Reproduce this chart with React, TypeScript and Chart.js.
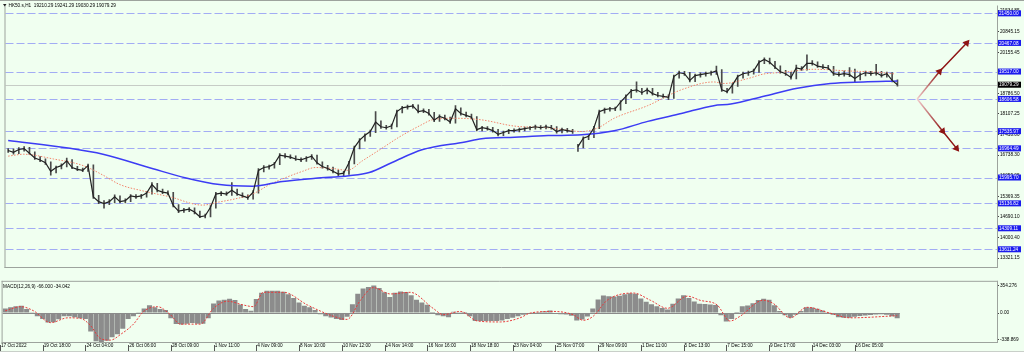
import React, { useEffect, useRef } from "react";
import { Chart, registerables } from "chart.js";

Chart.register(...registerables);

const FONT = '"Liberation Sans", Arial, sans-serif';
const FS = 4.7;

const symbolTitle = "HK50.s,H1";
const lastOpen = 19210.29;
const lastHigh = 19241.29;
const lastLow = 19030.29;
const lastClose = 19079.29;

const dateLabels = [
  "17 Oct 2022", "19 Oct 18:00", "24 Oct 04:00", "26 Oct 06:00", "28 Oct 09:00",
  "1 Nov 11:00", "4 Nov 09:00", "8 Nov 10:00", "10 Nov 12:00", "14 Nov 14:00",
  "16 Nov 16:00", "18 Nov 18:00", "23 Nov 04:00", "25 Nov 07:00", "29 Nov 09:00",
  "1 Dec 11:00", "5 Dec 13:00", "7 Dec 15:00", "9 Dec 17:00", "14 Dec 03:00", "16 Dec 05:00",
];
const BARS_PER_LABEL = 8;

const closes = [
  16895, 16832, 16926, 16958, 16800, 16643, 16580, 16486, 16203, 16328,
  16391, 16549, 16328, 16265, 16234, 16391, 15353, 15195, 15132, 15195,
  15353, 15195, 15227, 15384, 15353, 15384, 15478, 15761, 15573, 15510,
  15478, 15069, 14880, 14912, 14943, 14849, 14691, 14723, 15006, 15447,
  15478, 15447, 15573, 15447, 15384, 15321, 15510, 16234, 16328, 16360,
  16454, 16737, 16706, 16675, 16612, 16580, 16643, 16706, 16486, 16360,
  16297, 16203, 16108, 16140, 16486, 16989, 17241, 17399, 17524, 17839,
  17682, 17650, 17713, 18186, 18312, 18343, 18375, 18186, 18217, 18123,
  17902, 18028, 17965, 17839, 18280, 18123, 18060, 17997, 17587, 17650,
  17619, 17556, 17430, 17493, 17556, 17556, 17587, 17619, 17650, 17682,
  17650, 17682, 17650, 17524, 17587, 17556, 17524, 17021, 17304, 17367,
  17650, 18186, 18249, 18280, 18280, 18500, 18689, 18878, 18910, 18815,
  18910, 18784, 18721, 18689, 18658, 19350, 19476, 19445, 19224, 19382,
  19413, 19445, 19476, 19539, 18910, 18847, 19067, 19350, 19445, 19476,
  19539, 19823, 19917, 19823, 19665, 19508, 19445, 19319, 19634, 19602,
  19791, 19791, 19697, 19665, 19634, 19445, 19413, 19445, 19413, 19287,
  19413, 19476, 19445, 19476, 19382, 19445, 19224, 19079.29,
];

const lows = [
  16830, 16770, 16790, 16870, 16760, 16600, 16520, 16430, 16076, 16150,
  16280, 16350, 16290, 16220, 16190, 16200, 15300, 15130, 14974, 15090,
  15150, 15150, 15150, 15190, 15300, 15300, 15340, 15440, 15520, 15460,
  15420, 15020, 14830, 14840, 14860, 14790, 14660, 14650, 14690, 14980,
  15390, 15400, 15400, 15400, 15330, 15270, 15280, 15480, 16180, 16270,
  16310, 16420, 16650, 16620, 16560, 16520, 16530, 16600, 16440, 16310,
  16240, 16150, 16050, 16060, 16100, 16450, 16950, 17200, 17360, 17490,
  17630, 17600, 17610, 17680, 18140, 18270, 18300, 18140, 18150, 18070,
  17850, 17860, 17910, 17790, 17800, 18070, 18010, 17950, 17540, 17540,
  17570, 17500, 17380, 17390, 17450, 17500, 17510, 17540, 17580, 17600,
  17600, 17610, 17600, 17470, 17480, 17500, 17460, 16863, 16980, 17250,
  17320, 17620, 18130, 18200, 18220, 18230, 18450, 18640, 18830, 18760,
  18770, 18730, 18670, 18640, 18580, 18620, 19300, 19390, 19170, 19180,
  19330, 19360, 19400, 19420, 18860, 18805, 18800, 19020, 19300, 19390,
  19430, 19490, 19780, 19770, 19610, 19460, 19390, 19260, 19270, 19550,
  19560, 19730, 19650, 19610, 19580, 19390, 19360, 19360, 19350, 19161,
  19240, 19370, 19390, 19400, 19330, 19330, 19170, 19030.29,
];

const highs = [
  16960, 16950, 16990, 17020, 17000, 16850, 16690, 16620, 16520, 16380,
  16450, 16640, 16590, 16370, 16310, 16440, 16420, 15400, 15230, 15260,
  15420, 15390, 15290, 15430, 15430, 15440, 15530, 15830, 15800, 15610,
  15550, 15500, 15100, 14970, 15000, 14990, 14880, 14780, 15060, 15500,
  15530, 15520, 15830, 15610, 15490, 15420, 15560, 16290, 16390, 16410,
  16500, 16790, 16790, 16750, 16720, 16650, 16690, 16760, 16740, 16520,
  16400, 16340, 16240, 16200, 16530, 17040, 17290, 17450, 17570, 18186,
  17880, 17730, 17770, 18240, 18360, 18400, 18430, 18410, 18280, 18260,
  18160, 18080, 18070, 18000, 18383, 18310, 18170, 18100, 18020, 17700,
  17690, 17660, 17600, 17540, 17600, 17610, 17640, 17670, 17700, 17740,
  17720, 17740, 17730, 17690, 17640, 17630, 17600, 17100, 17350, 17420,
  17700, 18240, 18300, 18330, 18340, 18550, 18740, 18930, 19171, 18960,
  18970, 18960, 18830, 18770, 18740, 19400, 19530, 19520, 19490, 19430,
  19470, 19500, 19530, 19697, 19580, 18960, 19120, 19400, 19500, 19530,
  19600, 19880, 19970, 19960, 19860, 19710, 19560, 19490, 19730, 19680,
  20074, 19880, 19840, 19750, 19720, 19690, 19500, 19540, 19645, 19600,
  19470, 19530, 19520, 19760, 19520, 19500, 19480, 19241.29,
];
const gapAfterIndex = 106;

// slow moving average (blue), [bar index, price]
const maSlow = [
  [0, 17225], [11.6, 16967], [17.8, 16769], [27.2, 16287], [33.4, 15982], [39.7, 15761],
  [45.9, 15708], [51.5, 15866], [57.7, 15972], [64, 16054], [67.8, 16160], [72.1, 16495],
  [77.7, 16917], [85.8, 17178], [88.9, 17282], [95.1, 17336], [101.4, 17389], [107.7, 17414],
  [113.8, 17547], [120.1, 17861], [126.4, 18123], [132.5, 18384], [135.7, 18437], [141.9, 18698],
  [148.2, 18963], [154.4, 19120], [160.6, 19171], [167, 19202],
];

// fast moving average (red dotted), [bar index, price]
const maFast = [
  [0, 16706], [2.9, 16769], [8.5, 16612], [14.1, 16391], [17.8, 16076], [21, 15761],
  [25.3, 15551], [30.4, 15353], [36.5, 15079], [39.7, 15186], [42.7, 15289], [45.9, 15447],
  [49.1, 15761], [51.5, 15950], [55.3, 16203], [57.7, 16328], [60.9, 16297], [63.7, 16234],
  [66.5, 16549], [70.2, 16967], [73.4, 17336], [77.7, 17754], [79.6, 17912], [83.9, 17965],
  [88.9, 17912], [95.1, 17704], [101.4, 17650], [107.7, 17524], [110.8, 17650], [113.8, 17965],
  [120.1, 18384], [126.4, 18910], [132.5, 19171], [134.4, 19120], [138.8, 19278], [141.9, 19435],
  [145.1, 19486], [151.3, 19592], [157.6, 19539], [163.8, 19486], [166.6, 19435],
];

const levels = [21450.0, 20467.08, 19517.0, 18606.58, 17535.97, 16964.49, 15995.7, 15136.82, 14309.11, 13611.24];

const priceTicks = [
  13321.15, 14000.4, 14690.1, 15369.35, 16059.05, 16738.3, 17418.0,
  18107.25, 18786.5, 19476.2, 20155.45, 20845.15, 21534.85,
];

// projection arrows, [bar index, price]
const arrowUp = [[170.7, 18606.58], [174.9, 19517.0], [180.0, 20467.08]];
const arrowDown = [[170.7, 18606.58], [175.5, 17535.97], [178.1, 16964.49]];

const macdHist = [
  58, 76, 86, 94, 51, 11, -40, -77, -120, -118,
  -80, -40, -40, -53, -65, -77, -236, -360, -370, -355,
  -310, -273, -200, -77, -40, 9, 58, 100, 76, 51,
  38, -65, -140, -148, -138, -126, -138, -138, -65, 122,
  160, 170, 182, 168, 109, 51, 30, 180, 260, 287,
  287, 287, 272, 241, 192, 137, 94, 76, 39, -16,
  -40, -56, -77, -89, -47, 113, 247, 315, 333, 352,
  321, 266, 207, 260, 278, 270, 229, 170, 135, 107,
  2, -28, -40, -53, 17, 9, 2, -40, -102, -102,
  -102, -102, -102, -96, -77, -61, -40, -22, -4, 9,
  15, 23, 33, -12, -16, -18, -34, -96, -83, -44,
  58, 174, 225, 217, 211, 221, 241, 254, 247, 186,
  146, 113, 87, 64, 45, 119, 186, 229, 192, 148,
  121, 116, 111, 104, -28, -109, -77, 15, 86, 98,
  125, 168, 184, 172, 100, 25, -28, -59, -22, 27,
  76, 70, 54, 33, 9, -22, -53, -61, -61, -47,
  -37, -31, -25, -20, -15, -22, -40, -66,
];

// signal line, [bar index, value]
const macdSignal = [
  [0, 29], [2.9, 82], [5.3, 29], [8.5, -123], [11.7, -61], [14.1, -69], [16, -163], [17.8, -326],
  [19.7, -347], [21.6, -273], [24, -142], [25.9, 21], [28.5, 82], [30.9, -20], [32.8, -142],
  [36.5, -142], [39, 61], [41.6, 152], [44.6, 103], [46.5, 82], [48.3, 266], [52.1, 266],
  [56.6, 103], [61.4, -40], [64, -81], [66.5, 164], [68.9, 327], [72.1, 245], [75.8, 266],
  [80.1, 61], [82, -20], [85.2, 21], [88.4, -102], [92.7, -114], [96.4, -61], [98.3, 0],
  [102.6, 21], [106.3, -20], [108.2, -93], [110.1, -40], [112.7, 164], [117.6, 257],
  [120.8, 164], [124, 61], [127.7, 217], [130.1, 164], [133.3, 103], [135.7, -102],
  [137.6, -40], [141.9, 164], [143.8, 123], [147, -61], [150.1, 74], [154.4, 0],
  [158.2, -61], [167, -34.042],
];
const macdTicks = [354.276, 0, -338.869];
const macdTickLabels = ["354.276", "0.00", "-338.869"];

const X_MIN = -0.5;
const X_MAX = 185.69;
const PRICE_MIN = 13023;
const PRICE_MAX = 21711;
const MACD_MIN = -371;
const MACD_MAX = 400.6;

const BG = "#f0fff0";
const FRAME = "#9da39d";

const pts = (arr: number[][]) => arr.map(([x, y]) => ({ x, y }));

function xScale(show: boolean): any {
  return {
    type: "linear",
    min: X_MIN,
    max: X_MAX,
    offset: false,
    display: show,
    grid: { display: false, drawTicks: false },
    border: { display: false },
    afterBuildTicks: (s: any) => {
      s.ticks = dateLabels.map((_, k) => ({ value: k * BARS_PER_LABEL - 0.8 }));
    },
    afterFit: (s: any) => {
      s.height = 10;
    },
    ticks: {
      autoSkip: false,
      maxRotation: 0,
      minRotation: 0,
      align: "start",
      padding: 1,
      color: "#000",
      font: { family: FONT, size: FS },
      callback: (_v: any, i: number) => dateLabels[i],
    },
  };
}

function setFont(ctx: CanvasRenderingContext2D) {
  ctx.font = `${FS}px ${FONT}`;
  ctx.textBaseline = "middle";
  ctx.textAlign = "left";
}

const mainDecor = {
  id: "mainDecor",
  beforeDatasetsDraw(chart: any) {
    const { ctx, chartArea: a, scales } = chart;
    const y = scales.y;
    ctx.save();
    const cy = Math.round(y.getPixelForValue(lastClose)) + 0.5;
    ctx.strokeStyle = "#c6ccc6";
    ctx.lineWidth = 1;
    ctx.beginPath();
    ctx.moveTo(a.left, cy);
    ctx.lineTo(a.right, cy);
    ctx.stroke();
    ctx.strokeStyle = "#a2acf4";
    ctx.setLineDash([8, 3]);
    levels.forEach((v) => {
      const py = Math.round(y.getPixelForValue(v)) + 0.5;
      ctx.beginPath();
      ctx.moveTo(a.left, py);
      ctx.lineTo(a.right, py);
      ctx.stroke();
    });
    ctx.restore();
  },
  afterDraw(chart: any) {
    const { ctx, chartArea: a, scales, width } = chart;
    const y = scales.y;
    ctx.save();
    ctx.strokeStyle = FRAME;
    ctx.lineWidth = 1;
    ctx.beginPath();
    ctx.moveTo(0, 0.5);
    ctx.lineTo(width, 0.5);
    ctx.moveTo(a.left - 0.5, a.top);
    ctx.lineTo(a.left - 0.5, a.bottom + 1);
    ctx.moveTo(a.right + 0.5, a.top);
    ctx.lineTo(a.right + 0.5, a.bottom + 1);
    ctx.moveTo(a.left - 1, a.bottom + 0.5);
    ctx.lineTo(a.right + 1, a.bottom + 0.5);
    ctx.stroke();
    setFont(ctx);
    const drawBox = (v: number, fill: string) => {
      const py = y.getPixelForValue(v);
      ctx.fillStyle = fill;
      ctx.fillRect(a.right + 1, py - 3, 23, 6);
      ctx.fillStyle = "#fff";
      ctx.fillText(v.toFixed(2), a.right + 2, py + 0.3);
    };
    levels.forEach((v) => drawBox(v, "#1b1bee"));
    drawBox(lastClose, "#000");
    ctx.fillStyle = "#222";
    ctx.beginPath();
    ctx.moveTo(3, 4);
    ctx.lineTo(6.5, 4);
    ctx.lineTo(4.75, 6.5);
    ctx.closePath();
    ctx.fill();
    ctx.fillStyle = "#000";
    ctx.fillText(
      `${symbolTitle}  ${lastOpen.toFixed(2)} ${lastHigh.toFixed(2)} ${lastLow.toFixed(2)} ${lastClose.toFixed(2)}`,
      8.5,
      5.3
    );
    ctx.restore();
  },
};

const macdDecor = {
  id: "macdDecor",
  beforeDatasetsDraw(chart: any) {
    const { ctx, scales } = chart;
    const { x, y } = scales;
    ctx.save();
    const zy = Math.round(y.getPixelForValue(0)) + 0.5;
    ctx.strokeStyle = "#8a8a8a";
    ctx.lineWidth = 1;
    ctx.beginPath();
    ctx.moveTo(x.getPixelForValue(-0.5), zy);
    ctx.lineTo(x.getPixelForValue(macdHist.length - 0.5), zy);
    ctx.stroke();
    ctx.restore();
  },
  afterDraw(chart: any) {
    const { ctx, chartArea: a, scales, width, height } = chart;
    const x = scales.x;
    ctx.save();
    ctx.strokeStyle = FRAME;
    ctx.lineWidth = 1;
    ctx.beginPath();
    ctx.moveTo(a.left - 1, a.top - 0.5);
    ctx.lineTo(a.right + 1, a.top - 0.5);
    ctx.moveTo(a.left - 0.5, a.top - 1);
    ctx.lineTo(a.left - 0.5, a.bottom + 1);
    ctx.moveTo(a.right + 0.5, a.top - 1);
    ctx.lineTo(a.right + 0.5, a.bottom + 1);
    ctx.moveTo(a.left - 1, a.bottom + 0.5);
    ctx.lineTo(a.right + 1, a.bottom + 0.5);
    ctx.stroke();
    ctx.strokeStyle = "#c9cfc9";
    ctx.beginPath();
    ctx.moveTo(0, height - 0.5);
    ctx.lineTo(width, height - 0.5);
    ctx.stroke();
    ctx.strokeStyle = "#555";
    x.ticks.forEach((t: any) => {
      const px = Math.round(x.getPixelForValue(t.value)) - 0.5;
      ctx.beginPath();
      ctx.moveTo(px, a.bottom + 3);
      ctx.lineTo(px, a.bottom + 9);
      ctx.stroke();
    });
    setFont(ctx);
    ctx.fillStyle = "#000";
    const sig = macdSignal[macdSignal.length - 1][1];
    ctx.fillText(
      `MACD(12,26,9) ${macdHist[macdHist.length - 1].toFixed(3)} ${sig.toFixed(3)}`,
      3,
      a.top + 4.5
    );
    ctx.restore();
  },
};

export default function App() {
  const mainRef = useRef<HTMLCanvasElement>(null);
  const macdRef = useRef<HTMLCanvasElement>(null);

  useEffect(() => {
    Chart.defaults.font.family = FONT;
    Chart.defaults.font.size = FS;

    const arrowGradient = (pts0: number[][]) => (c: any) => {
      const ch = c.chart;
      const xs = ch.scales?.x;
      if (!xs || !ch.chartArea) return "#8e1515";
      const g = ch.ctx.createLinearGradient(
        xs.getPixelForValue(pts0[0][0]), 0,
        xs.getPixelForValue(pts0[1][0]), 0
      );
      g.addColorStop(0, "#f2cccc");
      g.addColorStop(1, "#8e1515");
      return g;
    };

    const main = new Chart(mainRef.current as HTMLCanvasElement, {
      type: "bar",
      data: {
        datasets: [
          {
            type: "line",
            data: pts(arrowUp),
            borderColor: arrowGradient(arrowUp),
            borderWidth: 1.5,
            pointRadius: [0, 2.8, 2.8],
            pointStyle: "triangle",
            pointRotation: [0, 40, 40],
            pointBackgroundColor: "#8e1515",
            pointBorderColor: "#8e1515",
            order: 0,
          } as any,
          {
            type: "line",
            data: pts(arrowDown),
            borderColor: arrowGradient(arrowDown),
            borderWidth: 1.5,
            pointRadius: [0, 2.8, 2.8],
            pointStyle: "triangle",
            pointRotation: [0, 143, 143],
            pointBackgroundColor: "#8e1515",
            pointBorderColor: "#8e1515",
            order: 0,
          } as any,
          {
            type: "line",
            data: closes.map((c, i) => ({ x: i, y: c })),
            borderColor: "#222222",
            borderWidth: 1.2,
            pointRadius: 0,
            tension: 0,
            order: 1,
            segment: {
              borderColor: (s: any) => (s.p0DataIndex === gapAfterIndex ? "rgba(0,0,0,0)" : undefined),
            },
          } as any,
          {
            type: "line",
            data: pts(maSlow),
            borderColor: "#3c3cf4",
            borderWidth: 1.5,
            pointRadius: 0,
            cubicInterpolationMode: "monotone",
            order: 2,
          } as any,
          {
            type: "line",
            data: pts(maFast),
            borderColor: "#f2836b",
            borderWidth: 1,
            borderDash: [1.5, 1.5],
            pointRadius: 0,
            cubicInterpolationMode: "monotone",
            order: 2,
          } as any,
          {
            type: "bar",
            data: closes.map((_, i) => ({ x: i, y: [lows[i], highs[i]] })),
            backgroundColor: "#4a4a4a",
            barThickness: 1,
            order: 3,
          } as any,
        ],
      },
      options: {
        responsive: false,
        animation: false,
        events: [],
        layout: { padding: { left: 2, right: 0, top: 1, bottom: 1 } },
        plugins: { legend: { display: false }, tooltip: { enabled: false } },
        scales: {
          x: xScale(false),
          y: {
            type: "linear",
            position: "right",
            min: PRICE_MIN,
            max: PRICE_MAX,
            grid: { drawOnChartArea: false, drawTicks: true, tickLength: 2, color: "#444" },
            border: { display: false },
            afterBuildTicks: (s: any) => {
              s.ticks = priceTicks.map((v) => ({ value: v }));
            },
            afterFit: (s: any) => {
              s.width = 27;
            },
            ticks: {
              autoSkip: false,
              padding: 1,
              color: "#000",
              font: { family: FONT, size: FS },
              callback: (v: any) => Number(v).toFixed(2),
            },
          } as any,
        },
      },
      plugins: [mainDecor],
    });

    const macd = new Chart(macdRef.current as HTMLCanvasElement, {
      type: "bar",
      data: {
        datasets: [
          {
            type: "line",
            data: pts(macdSignal),
            borderColor: "#e83a3a",
            borderWidth: 1,
            borderDash: [2, 1.5],
            pointRadius: 0,
            cubicInterpolationMode: "monotone",
            order: 1,
          } as any,
          {
            type: "bar",
            data: macdHist.map((v, i) => ({ x: i, y: v })),
            backgroundColor: "#8c8c8c",
            barPercentage: 1,
            categoryPercentage: 0.94,
            order: 2,
          } as any,
        ],
      },
      options: {
        responsive: false,
        animation: false,
        events: [],
        layout: { padding: { left: 2, right: 0, top: 1, bottom: 0 } },
        plugins: { legend: { display: false }, tooltip: { enabled: false } },
        scales: {
          x: xScale(true),
          y: {
            type: "linear",
            position: "right",
            min: MACD_MIN,
            max: MACD_MAX,
            grid: { drawOnChartArea: false, drawTicks: true, tickLength: 2, color: "#444" },
            border: { display: false },
            afterBuildTicks: (s: any) => {
              s.ticks = macdTicks.map((v) => ({ value: v }));
            },
            afterFit: (s: any) => {
              s.width = 27;
            },
            ticks: {
              autoSkip: false,
              padding: 1,
              color: "#000",
              font: { family: FONT, size: FS },
              callback: (_v: any, i: number) => macdTickLabels[i],
            },
          } as any,
        },
      },
      plugins: [macdDecor],
    });

    return () => {
      main.destroy();
      macd.destroy();
    };
  }, []);

  return (
    <div style={{ position: "relative", width: 1024, height: 352, background: BG, overflow: "hidden" }}>
      <style>{`html,body{margin:0;padding:0;background:${BG};}`}</style>
      <canvas
        ref={mainRef}
        width={1024}
        height={278}
        style={{ position: "absolute", left: 0, top: 0, width: 1024, height: 278 }}
      />
      <canvas
        ref={macdRef}
        width={1024}
        height={74}
        style={{ position: "absolute", left: 0, top: 278, width: 1024, height: 74 }}
      />
    </div>
  );
}
